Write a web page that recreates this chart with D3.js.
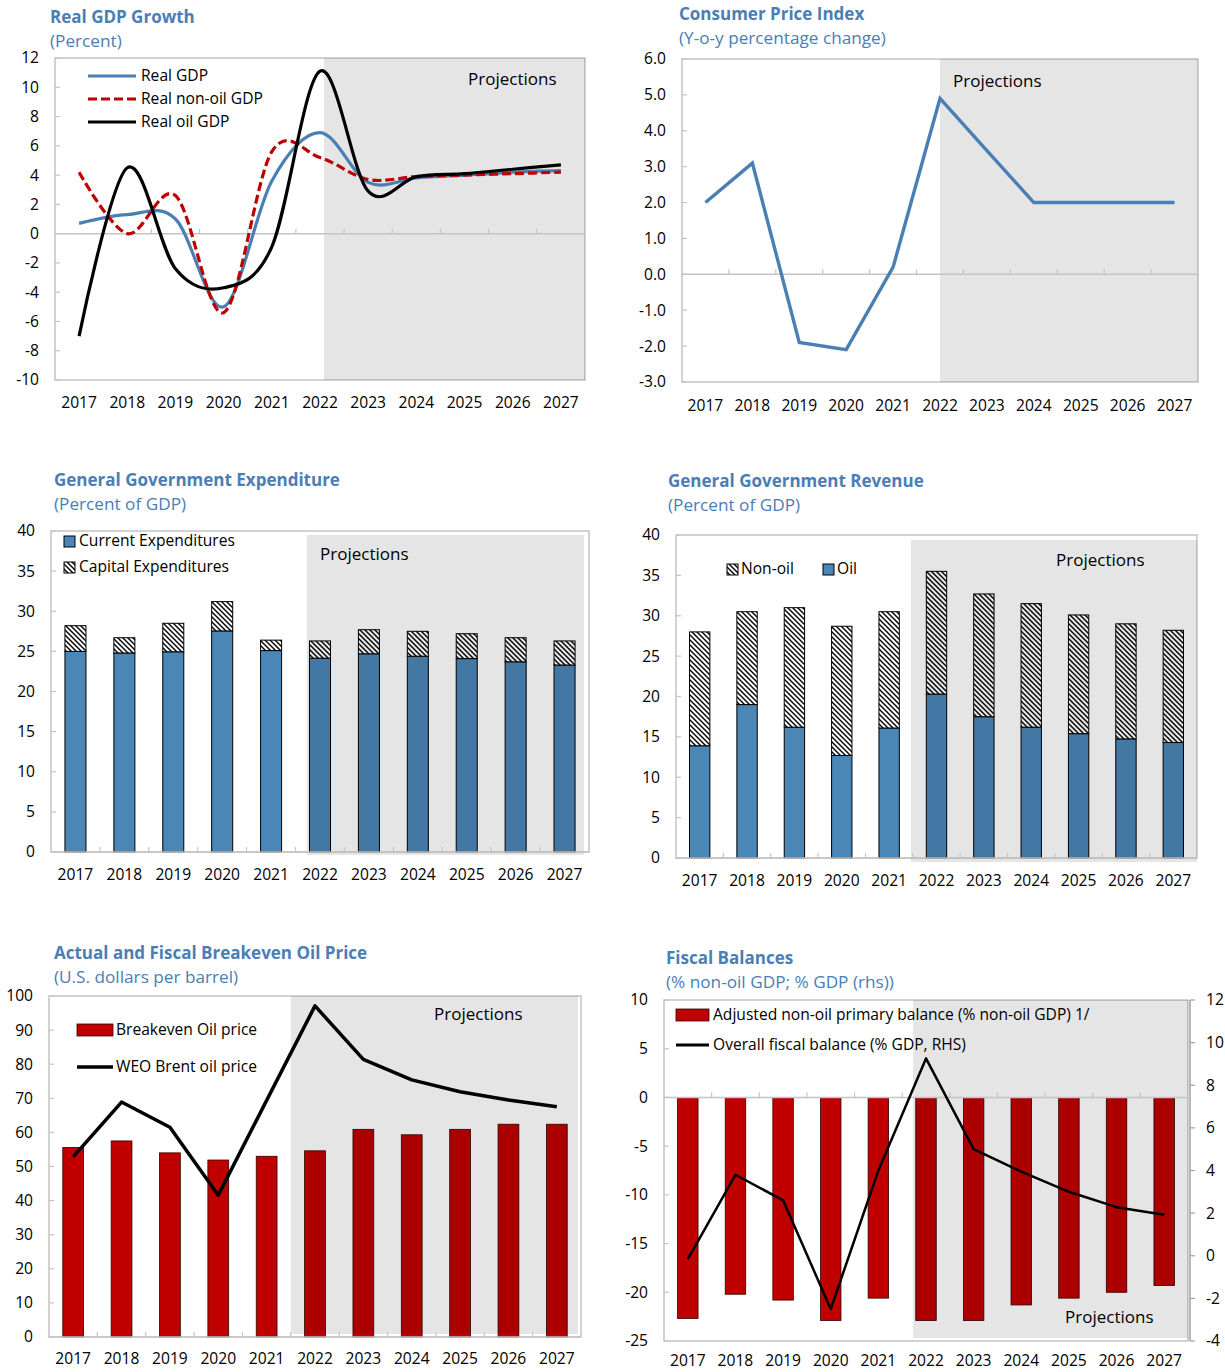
<!DOCTYPE html>
<html><head><meta charset="utf-8">
<script src="https://cdn.jsdelivr.net/npm/d3@7/dist/d3.min.js"></script>
<style>
body{margin:0;background:#fff}
text{font-family:"Open Sans","Noto Sans",sans-serif}
</style>
</head><body>
<svg id="c" width="1225" height="1372"></svg>
<script>
// ---------------- DATA ----------------
const years = ["2017","2018","2019","2020","2021","2022","2023","2024","2025","2026","2027"];

// Panel 1: Real GDP growth (percent)
const gdpReal   = [0.7, 1.3, 1.0, -5.0, 3.6, 6.9, 3.5, 3.8, 4.0, 4.2, 4.3];
const gdpNonOil = [4.2, 0.0, 2.6, -5.4, 5.6, 5.2, 3.7, 3.9, 4.0, 4.1, 4.2];
const gdpOil    = [-7.0, 4.5, -2.4, -3.7, -0.9, 11.1, 2.9, 3.9, 4.1, 4.4, 4.7];
const gdpTicks  = [-10,-8,-6,-4,-2,0,2,4,6,8,10,12];

// Panel 2: CPI (y-o-y percentage change)
const cpi      = [2.0, 3.1, -1.9, -2.1, 0.2, 4.9, 3.45, 2.0, 2.0, 2.0, 2.0];
const cpiTicks = [-3,-2,-1,0,1,2,3,4,5,6];

// Panel 3: General government expenditure (percent of GDP)
const expCurrent = [25.0, 24.8, 24.95, 27.55, 25.1, 24.15, 24.7, 24.4, 24.1, 23.7, 23.3];
const expCapital = [3.2, 1.9, 3.55, 3.65, 1.3, 2.15, 3.0, 3.1, 3.1, 3.0, 3.0];
const pctTicks   = [0,5,10,15,20,25,30,35,40];

// Panel 4: General government revenue (percent of GDP)
const revOil    = [13.9, 19.0, 16.2, 12.7, 16.1, 20.3, 17.5, 16.2, 15.4, 14.75, 14.3];
const revNonOil = [14.1, 11.5, 14.8, 16.0, 14.4, 15.2, 15.2, 15.3, 14.7, 14.25, 13.9];

// Panel 5: Oil prices (US$ per barrel)
const breakeven  = [55.6, 57.5, 54.0, 51.9, 53.0, 54.6, 60.9, 59.3, 60.9, 62.4, 62.4];
const brent      = [52.8, 68.9, 61.5, 41.6, 69.4, 97.1, 81.4, 75.4, 71.9, 69.5, 67.5];
const priceTicks = [0,10,20,30,40,50,60,70,80,90,100];

// Panel 6: Fiscal balances
const nonOilPrimary = [-22.7, -20.2, -20.8, -22.9, -20.6, -22.9, -22.9, -21.3, -20.6, -20.0, -19.3];
const overallBal    = [-0.16, 3.8, 2.6, -2.5, 4.0, 9.26, 5.0, 3.95, 3.0, 2.28, 1.92];
const fbLeftTicks   = [-25,-20,-15,-10,-5,0,5,10];
const fbRightTicks  = [-4,-2,0,2,4,6,8,10,12];

// ---------------- STYLE ----------------
const TITLE = "#4a7eb5";
const BLUE_BAR = "#4a86b6";
const BLUE_LINE = "#4a7fb3";
const RED = "#c00000";
const GRID = "#c4c4c4";
const SHADE = "rgba(0,0,0,0.1)";
const FS = 15.6;      // tick / legend font size
const FS_PROJ = 17;

const svg = d3.select("#c");
const defs = svg.append("defs");
const pat = defs.append("pattern").attr("id","hatch").attr("patternUnits","userSpaceOnUse")
  .attr("width",5).attr("height",5);
pat.append("rect").attr("width",5).attr("height",5).attr("fill","#fff");
pat.append("path").attr("d","M-1,-1L6,6M-1,4L1,6M4,-1L6,1").attr("stroke","#000").attr("stroke-width",1.4);

const hy = s => String(s).replace(/\u2212/g,"-");

function text(g, x, y, s, o={}) {
  return g.append("text").attr("x",x).attr("y",y).attr("dy","0.35em")
    .attr("font-size",o.size||FS).attr("font-weight",o.weight||400)
    .attr("fill",o.fill||"#000").attr("text-anchor",o.anchor||"start").text(s);
}

function panel(cfg) {
  const g = svg.append("g");
  const x = d3.scaleBand().domain(years).range([cfg.l, cfg.r]);
  const y = d3.scaleLinear().domain(cfg.yDomain).range([cfg.b, cfg.t]);
  const step = x.step();
  text(g, cfg.titleX, cfg.titleY, cfg.title, {size:17, weight:700, fill:TITLE});
  text(g, cfg.titleX, cfg.titleY+24, cfg.subtitle, {size:17.2, fill:TITLE});
  g.append("rect").attr("x",cfg.l).attr("y",cfg.t).attr("width",cfg.r-cfg.l).attr("height",cfg.b-cfg.t)
    .attr("fill","#fff").attr("stroke",GRID).attr("stroke-width",1.5);
  cfg.yTicks.forEach(v => {
    g.append("line").attr("x1",cfg.l).attr("x2",cfg.l+5).attr("y1",y(v)).attr("y2",y(v))
      .attr("stroke",GRID).attr("stroke-width",1.2);
    text(g, cfg.l-16, y(v), hy(cfg.fmt ? cfg.fmt(v) : v), {anchor:"end"});
  });
  years.forEach(c => text(g, x(c)+step/2, cfg.xLabY, c, {anchor:"middle"}));
  return {g, x, y, step};
}

function shade(p, cfg, startIdx, y0, y1, x1) {
  p.g.append("rect").attr("x", cfg.l + startIdx*p.step).attr("y", y0)
    .attr("width", (x1 ?? cfg.r) - (cfg.l + startIdx*p.step)).attr("height", y1-y0).attr("fill",SHADE);
}

function baseAxis(p, cfg, yv) {
  const yy = p.y(yv);
  p.g.append("line").attr("x1",cfg.l).attr("x2",cfg.r).attr("y1",yy).attr("y2",yy)
    .attr("stroke",GRID).attr("stroke-width",1.5);
  years.slice(1).forEach(c => {
    p.g.append("line").attr("x1",p.x(c)).attr("x2",p.x(c)).attr("y1",yy).attr("y2",yy-5)
      .attr("stroke",GRID).attr("stroke-width",1.2);
  });
}

const barW = s => s*0.43;

// ---------- Panel 1 ----------
{
  const cfg = {l:55,r:585,t:58,b:380,yDomain:[-10,12],yTicks:gdpTicks,xLabY:403,
    titleX:50,titleY:17,title:"Real GDP Growth",subtitle:"(Percent)"};
  const p = panel(cfg);
  shade(p, cfg, 5.58, cfg.t, cfg.b);
  baseAxis(p, cfg, 0);
  const line = d3.line().x((d,i)=>p.x(years[i])+p.step/2).y(d=>p.y(d)).curve(d3.curveCardinal.tension(0));
  p.g.append("path").datum(gdpReal).attr("d",line).attr("fill","none").attr("stroke",BLUE_LINE).attr("stroke-width",3.2);
  p.g.append("path").datum(gdpNonOil).attr("d",line).attr("fill","none").attr("stroke",RED).attr("stroke-width",3.2).attr("stroke-dasharray","9,4");
  p.g.append("path").datum(gdpOil).attr("d",line).attr("fill","none").attr("stroke","#000").attr("stroke-width",3.2);
  const leg = [["Real GDP",BLUE_LINE,null],["Real non-oil GDP",RED,"9,4"],["Real oil GDP","#000",null]];
  leg.forEach((d,i)=>{
    const yy = 76 + i*23;
    p.g.append("line").attr("x1",88).attr("x2",136).attr("y1",yy).attr("y2",yy).attr("stroke",d[1]).attr("stroke-width",3.2).attr("stroke-dasharray",d[2]);
    text(p.g, 141, yy, d[0]);
  });
  text(p.g, 468, 79, "Projections", {size:FS_PROJ});
}

// ---------- Panel 2 ----------
{
  const cfg = {l:682,r:1198,t:59,b:382,yDomain:[-3,6],yTicks:cpiTicks,xLabY:406,fmt:d3.format(".1f"),
    titleX:679,titleY:14,title:"Consumer Price Index",subtitle:"(Y-o-y percentage change)"};
  const p = panel(cfg);
  shade(p, cfg, 5.5, cfg.t, cfg.b);
  baseAxis(p, cfg, 0);
  const line = d3.line().x((d,i)=>p.x(years[i])+p.step/2).y(d=>p.y(d));
  p.g.append("path").datum(cpi).attr("d",line).attr("fill","none").attr("stroke",BLUE_LINE).attr("stroke-width",3.4);
  text(p.g, 953, 81, "Projections", {size:FS_PROJ});
}

// ---------- Panel 3 ----------
{
  const cfg = {l:51,r:589,t:531,b:852,yDomain:[0,40],yTicks:pctTicks,xLabY:875,
    titleX:54,titleY:480,title:"General Government Expenditure",subtitle:"(Percent of GDP)"};
  const p = panel(cfg);
  const w = barW(p.step);
  years.forEach((c,i)=>{
    const cx = p.x(c)+p.step/2;
    p.g.append("rect").attr("x",cx-w/2).attr("y",p.y(expCurrent[i])).attr("width",w)
      .attr("height",p.y(0)-p.y(expCurrent[i])).attr("fill",BLUE_BAR).attr("stroke","#000").attr("stroke-width",1);
    p.g.append("rect").attr("x",cx-w/2).attr("y",p.y(expCurrent[i]+expCapital[i])).attr("width",w)
      .attr("height",p.y(expCurrent[i])-p.y(expCurrent[i]+expCapital[i])).attr("fill","url(#hatch)").attr("stroke","#000").attr("stroke-width",1);
  });
  shade(p, cfg, 5.23, 535, 855, 584);
  baseAxis(p, cfg, 0);
  p.g.append("rect").attr("x",64).attr("y",536).attr("width",11).attr("height",11).attr("fill",BLUE_BAR).attr("stroke","#000");
  text(p.g, 79, 541, "Current Expenditures");
  p.g.append("rect").attr("x",64).attr("y",562).attr("width",11).attr("height",11).attr("fill","url(#hatch)").attr("stroke","#000");
  text(p.g, 79, 567, "Capital Expenditures");
  text(p.g, 320, 554, "Projections", {size:FS_PROJ});
}

// ---------- Panel 4 ----------
{
  const cfg = {l:676,r:1197,t:535,b:858,yDomain:[0,40],yTicks:pctTicks,xLabY:881,
    titleX:668,titleY:481,title:"General Government Revenue",subtitle:"(Percent of GDP)"};
  const p = panel(cfg);
  const w = barW(p.step);
  years.forEach((c,i)=>{
    const cx = p.x(c)+p.step/2;
    p.g.append("rect").attr("x",cx-w/2).attr("y",p.y(revOil[i])).attr("width",w)
      .attr("height",p.y(0)-p.y(revOil[i])).attr("fill",BLUE_BAR).attr("stroke","#000").attr("stroke-width",1);
    p.g.append("rect").attr("x",cx-w/2).attr("y",p.y(revOil[i]+revNonOil[i])).attr("width",w)
      .attr("height",p.y(revOil[i])-p.y(revOil[i]+revNonOil[i])).attr("fill","url(#hatch)").attr("stroke","#000").attr("stroke-width",1);
  });
  shade(p, cfg, 4.96, 540, 862);
  baseAxis(p, cfg, 0);
  p.g.append("rect").attr("x",727).attr("y",564).attr("width",11).attr("height",11).attr("fill","url(#hatch)").attr("stroke","#000");
  text(p.g, 741, 569, "Non-oil");
  p.g.append("rect").attr("x",823).attr("y",564).attr("width",11).attr("height",11).attr("fill",BLUE_BAR).attr("stroke","#000");
  text(p.g, 837, 569, "Oil");
  text(p.g, 1056, 560, "Projections", {size:FS_PROJ});
}

// ---------- Panel 5 ----------
{
  const cfg = {l:49,r:581,t:996,b:1337,yDomain:[0,100],yTicks:priceTicks,xLabY:1359,
    titleX:54,titleY:953,title:"Actual and Fiscal Breakeven Oil Price",subtitle:"(U.S. dollars per barrel)"};
  const p = panel(cfg);
  const w = barW(p.step);
  years.forEach((c,i)=>{
    const cx = p.x(c)+p.step/2;
    p.g.append("rect").attr("x",cx-w/2).attr("y",p.y(breakeven[i])).attr("width",w)
      .attr("height",p.y(0)-p.y(breakeven[i])).attr("fill",RED).attr("stroke","#300").attr("stroke-width",0.8);
  });
  shade(p, cfg, 5.0, 996, 1334, 578);
  baseAxis(p, cfg, 0);
  const line = d3.line().x((d,i)=>p.x(years[i])+p.step/2).y(d=>p.y(d));
  p.g.append("path").datum(brent).attr("d",line).attr("fill","none").attr("stroke","#000").attr("stroke-width",3.5).attr("stroke-linejoin","round");
  p.g.append("rect").attr("x",77).attr("y",1024).attr("width",36).attr("height",12).attr("fill",RED).attr("stroke","#300").attr("stroke-width",0.8);
  text(p.g, 116, 1030, "Breakeven Oil price");
  p.g.append("line").attr("x1",77).attr("x2",113).attr("y1",1067).attr("y2",1067).attr("stroke","#000").attr("stroke-width",3.5);
  text(p.g, 116, 1067, "WEO Brent oil price");
  text(p.g, 434, 1014, "Projections", {size:FS_PROJ});
}

// ---------- Panel 6 ----------
{
  const cfg = {l:664,r:1188,t:1000,b:1341,yDomain:[-25,10],yTicks:fbLeftTicks,xLabY:1361,
    titleX:666,titleY:958,title:"Fiscal Balances",subtitle:"(% non-oil GDP; % GDP (rhs))"};
  const p = panel(cfg);
  const y2 = d3.scaleLinear().domain([-4,12]).range([cfg.b, cfg.t]);
  const w = barW(p.step);
  years.forEach((c,i)=>{
    const cx = p.x(c)+p.step/2;
    const v = nonOilPrimary[i];
    p.g.append("rect").attr("x",cx-w/2).attr("y",p.y(0)).attr("width",w)
      .attr("height",p.y(v)-p.y(0)).attr("fill",RED).attr("stroke","#300").attr("stroke-width",0.8);
  });
  shade(p, cfg, 5.23, 1000, 1338);
  baseAxis(p, cfg, 0);
  p.g.append("line").attr("x1",1190).attr("x2",1190).attr("y1",cfg.t).attr("y2",cfg.b).attr("stroke","#a0a0a0").attr("stroke-width",1.5);
  fbRightTicks.forEach(v=>{
    p.g.append("line").attr("x1",1190).attr("x2",1195).attr("y1",y2(v)).attr("y2",y2(v)).attr("stroke","#a0a0a0").attr("stroke-width",1.2);
    text(p.g, 1206, y2(v), String(v));
  });
  const line = d3.line().x((d,i)=>p.x(years[i])+p.step/2).y(d=>y2(d));
  p.g.append("path").datum(overallBal).attr("d",line).attr("fill","none").attr("stroke","#000").attr("stroke-width",2.5).attr("stroke-linejoin","round");
  p.g.append("rect").attr("x",676).attr("y",1009).attr("width",33).attr("height",12).attr("fill",RED).attr("stroke","#300").attr("stroke-width",0.8);
  text(p.g, 713, 1015, "Adjusted non-oil primary balance (% non-oil GDP) 1/");
  p.g.append("line").attr("x1",676).attr("x2",709).attr("y1",1045).attr("y2",1045).attr("stroke","#000").attr("stroke-width",3);
  text(p.g, 713, 1045, "Overall fiscal balance (% GDP, RHS)");
  text(p.g, 1065, 1317, "Projections", {size:FS_PROJ});
}
</script>
</body></html>
